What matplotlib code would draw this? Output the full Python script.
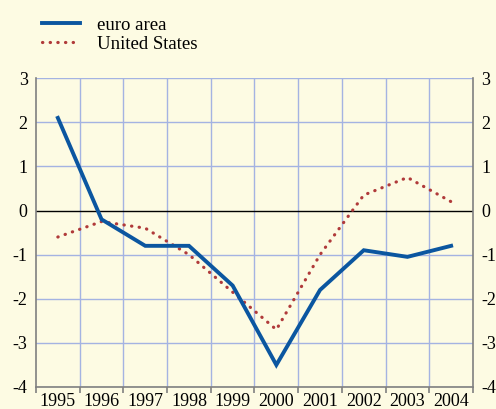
import matplotlib.pyplot as plt
from matplotlib.lines import Line2D

# Values
years = ["1995", "1996", "1997", "1998", "1999", "2000", "2001", "2002", "2003", "2004"]
euro_area = [2.1, -0.2, -0.8, -0.8, -1.7, -3.5, -1.8, -0.9, -1.05, -0.8]
united_states = [-0.6, -0.25, -0.4, -1.0, -1.85, -2.7, -1.0, 0.35, 0.75, 0.2]
y_ticks = [3, 2, 1, 0, -1, -2, -3, -4]

bg = "#fdfbe3"
grid_col = "#a4b3e2"
euro_col = "#0b56a0"
us_col = "#b03a3a"

plt.rcParams["font.family"] = "Liberation Serif"

fig = plt.figure(figsize=(4.96, 4.09), dpi=100, facecolor=bg)
ax = fig.add_axes([0.0726, 0.0538, 0.881, 0.755])
ax.set_facecolor(bg)

x = [i + 0.5 for i in range(len(years))]

ax.set_xlim(0, len(years))
ax.set_ylim(-4, 3)

# grid lines at year boundaries and integer values
for i in range(1, len(years)):
    ax.axvline(i, color=grid_col, lw=1, zorder=1)
for v in y_ticks:
    if v != 0:
        ax.axhline(v, color=grid_col, lw=1, zorder=1)
ax.axhline(0, color="black", lw=1, zorder=2)

ax.plot(x, euro_area, color=euro_col, lw=2.8, solid_joinstyle="miter", zorder=4)
ax.plot(x, united_states, color=us_col, lw=2.3, linestyle=(0, (0.1, 2.3)),
        dash_capstyle="round", zorder=3)

# axes and ticks
for side in ["left", "right", "bottom"]:
    ax.spines[side].set_color("#808080")
    ax.spines[side].set_linewidth(1.2)
ax.spines["top"].set_visible(False)

ax.set_xticks(range(len(years) + 1))
ax.set_xticklabels([])
ax.tick_params(axis="x", which="major", direction="out", length=4, color="#808080", width=1.2)
ax.set_xticks(x, minor=True)
ax.set_xticklabels(years, minor=True)
ax.tick_params(axis="x", which="minor", length=0, labelsize=13, pad=4)

ax.set_yticks(y_ticks)
ax.set_yticklabels([str(v) for v in y_ticks])
ax.tick_params(axis="y", length=0, labelsize=13, pad=6, labelleft=True, labelright=True)

# legend above the plot
handles = [
    Line2D([], [], color=euro_col, lw=2.8),
    Line2D([], [], color=us_col, lw=2.3, linestyle=(0, (0.1, 2.3)), dash_capstyle="round"),
]
fig.legend(handles, ["euro area", "United States"], loc="upper left",
           bbox_to_anchor=(0.051, 1.0), frameon=False, fontsize=13.5,
           handlelength=2.0, handletextpad=0.9, labelspacing=0.1)

plt.savefig("out.png", dpi=100, facecolor=bg)
